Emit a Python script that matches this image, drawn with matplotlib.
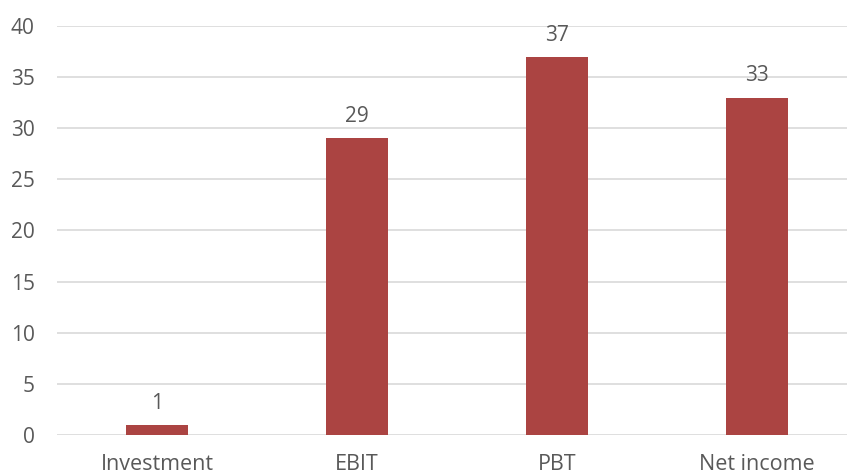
import matplotlib.pyplot as plt

plt.rcParams["font.family"] = ["Open Sans", "DejaVu Sans"]

categories = ["Investment", "EBIT", "PBT", "Net income"]
values = [1, 29, 37, 33]

bar_color = "#AB4442"
text_color = "#595959"

fig = plt.figure(figsize=(8.47, 4.74), dpi=100)
ax = fig.add_axes([57 / 847, 39 / 474, 800 / 847, 409 / 474])

x = range(len(categories))
bars = ax.bar(x, values, width=0.31, color=bar_color, zorder=3)
for b, v in zip(bars, values):
    ax.annotate(str(v), (b.get_x() + b.get_width() / 2, v), xytext=(0, 8),
                textcoords="offset points", ha="center", va="bottom",
                fontsize=15, color=text_color)

ax.set_xlim(-0.5, len(categories) - 0.5)
ax.set_ylim(0, 40)
ax.set_yticks(range(0, 41, 5))
ax.set_xticks(list(x))
ax.set_xticklabels(categories)
ax.grid(axis="y", color="#D9D9D9", linewidth=1.2, zorder=0)
for s in ax.spines.values():
    s.set_visible(False)
ax.tick_params(length=0, labelsize=15, colors=text_color)
ax.tick_params(axis="x", pad=14, labelsize=15.5)
ax.tick_params(axis="y", pad=16)

fig.savefig("out.png", dpi=100)
